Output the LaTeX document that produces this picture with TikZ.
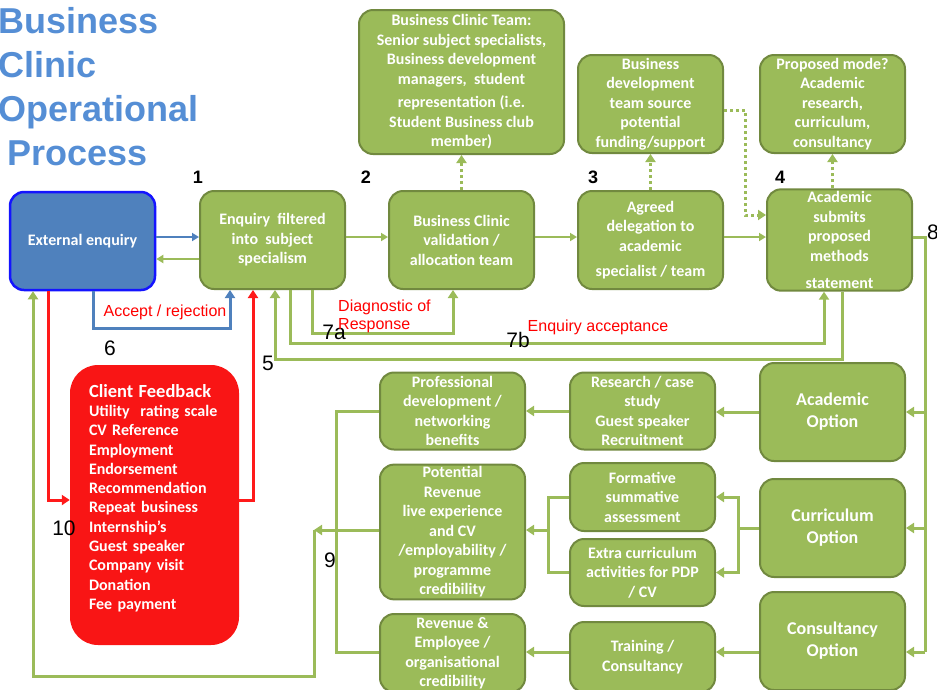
\documentclass[tikz,border=0pt]{standalone}
\usepackage{fontspec}
\newfontfamily\boxfont{Carlito}
\newfontfamily\labfont{Liberation Sans}
\usetikzlibrary{arrows.meta}
\definecolor{gfill}{HTML}{9BBB59}
\definecolor{gdraw}{HTML}{71893F}
\definecolor{bfill}{HTML}{4F81BD}
\definecolor{bdraw}{HTML}{1414FF}
\definecolor{rfill}{HTML}{F91515}
\definecolor{rline}{HTML}{FF1A1A}
\definecolor{titleblue}{HTML}{558ED5}
\begin{document}
\begin{tikzpicture}[x=1pt,y=-1pt,
  gbox/.style={draw=gdraw, line width=2pt, fill=gfill, rounded corners=14pt, text=white,
    font=\boxfont\bfseries\fontsize{16}{19.5}\selectfont, align=center, inner sep=2pt,
    minimum width=145pt, minimum height=98pt},
  obox/.style={gbox, font=\boxfont\bfseries\fontsize{18}{22}\selectfont},
  bbox/.style={gbox, draw=bdraw, line width=2.5pt, fill=bfill},
  rbox/.style={fill=rfill, rounded corners=28pt, text=white, align=left,
    font=\boxfont\bfseries\fontsize{16}{19.3}\selectfont,
    text width=131pt, inner xsep=19pt, inner ysep=0pt, minimum height=280pt},
  tip/.style={-{Triangle[length=8pt,width=10pt]}},
  garr/.style={draw=gfill, line width=3pt, tip},
  gline/.style={draw=gfill, line width=3pt},
  gthin/.style={draw=gfill, line width=2pt, -{Triangle[length=7pt,width=8pt]}},
  barr/.style={draw=bfill, line width=3pt, tip},
  bthin/.style={draw=bfill, line width=2pt, -{Triangle[length=7pt,width=8pt]}},
  rarr/.style={draw=rline, line width=3pt, tip},
  gdot/.style={draw=gfill, line width=3pt, dash pattern=on 3pt off 3pt, tip},
  lab/.style={text=red, font=\labfont\fontsize{16}{18}\selectfont, inner sep=0pt},
  num/.style={text=black, font=\labfont\fontsize{21}{21}\selectfont, inner sep=0pt},
  bnum/.style={text=black, font=\labfont\bfseries\fontsize{18}{18}\selectfont, inner sep=0pt},
  ttl/.style={text=titleblue, font=\labfont\bfseries\fontsize{36}{44}\selectfont, align=left, inner sep=0pt}
]
\useasboundingbox (0,0) rectangle (937,689);

% title
\node[ttl, anchor=base west] (title) at (-2,165) {Business\\Clinic\\Operational\\\hspace{9pt}Process};

% top row
\node[bbox] (ext) at (82.5,241) {External enquiry};
\node[gbox] (enq) at (272.5,240) {Enquiry~~filtered\\into~~subject\\specialism};
\node[gbox] (val) at (461.5,240) {Business Clinic\\validation /\\allocation team};
\node[gbox] (agr) at (650.5,240) {Agreed\\delegation to\\academic\\[6pt]specialist / team};
\node[gbox] (acs) at (839.5,240) {Academic\\submits\\proposed\\methods\\[8pt]statement};

\node[gbox, minimum width=205pt, minimum height=144pt] (team) at (461.5,82)
  {Business Clinic Team:\\Senior subject specialists,\\Business development\\managers,~~student\\[4pt]representation (i.e.\\Student Business club\\member)};
\node[gbox] (bdev) at (650.5,104) {Business\\development\\team source\\potential\\funding/support};
\node[gbox] (prop) at (832.5,104) {Proposed mode?\\Academic\\research,\\curriculum,\\consultancy};

% red feedback box
\node[rbox] (rbox) at (154.5,505) {{\fontsize{18.5}{21}\selectfont Client Feedback}\\Utility~~rating scale\\CV Reference\\Employment\\Endorsement\\Recommendation\\Repeat business\\Internship’s\\Guest speaker\\Company visit\\Donation\\Fee payment\\[-3pt]\mbox{}};

% options
\node[obox] (acadopt) at (832.5,412) {Academic\\Option};
\node[obox] (curopt) at (832.5,528) {Curriculum\\Option};
\node[obox] (conopt) at (832.5,641) {Consultancy\\Option};

\node[gbox, minimum height=77pt] (research) at (642.5,411) {Research / case\\study\\Guest speaker\\Recruitment};
\node[gbox, minimum height=77pt] (prof) at (452.5,411) {Professional\\development /\\networking\\benefits};
\node[gbox, minimum height=68pt] (formative) at (642.5,497) {Formative\\summative\\assessment};
\node[gbox, minimum height=67pt] (extra) at (642.5,572.5) {Extra curriculum\\activities for PDP\\/ CV};
\node[gbox, minimum height=134pt] (potrev) at (452.5,532) {Potential\\Revenue\\live experience\\and CV\\/employability /\\programme\\credibility};
\node[gbox, minimum height=70pt] (training) at (642.5,657) {Training /\\Consultancy};
\node[gbox, minimum height=78pt] (revemp) at (452.5,653) {Revenue \&\\Employee /\\organisational\\credibility};

% coordinates
\coordinate (c8) at (925,652);
\coordinate (cc) at (738,528);
\coordinate (cm) at (548,530);
\coordinate (n9a) at (336,411);
\coordinate (n9b) at (336,652);
\coordinate (c9) at (314,530);
\coordinate (c10) at (314,676);
\coordinate (d1) at (745,110);

% top connectors
\draw[bthin] ([yshift=4pt]ext.east) -- ([yshift=4pt]ext.east -| enq.west);
\draw[gthin] ([yshift=-19pt]enq.west) -- ([yshift=-19pt]enq.west -| ext.east);
\draw[gthin] ([yshift=3pt]enq.east) -- ([yshift=3pt]val.west);
\draw[gthin] ([yshift=3pt]val.east) -- ([yshift=3pt]agr.west);
\draw[gthin] ([yshift=3pt]agr.east) -- ([yshift=3pt]acs.west);

% dotted
\draw[gdot] (val.north) -- (team.south);
\draw[gdot] (agr.north) -- (bdev.south);
\draw[gdot] (acs.north -| prop.south) -- (prop.south);
\draw[gdot] ([yshift=-6pt]bdev.east) -- (d1) |- ([yshift=25pt]acs.west);

% loops under the top row
\draw[barr] ([xshift=10.5pt]ext.south) -- ++(0,37) -| ([xshift=-42.5pt]enq.south);
\draw[rarr] ([xshift=-34.5pt]ext.south) |- ([yshift=5pt]rbox.west);
\draw[rarr] ([yshift=5pt]rbox.east) -| ([xshift=-19.5pt]enq.south);
\draw[garr] ([xshift=39.5pt]enq.south) -- ++(0,43) -| ([xshift=-8.5pt]val.south);
\draw[garr] ([xshift=17.5pt]enq.south) -- ++(0,53) -| ([xshift=-15.5pt]acs.south);
\draw[garr] ([xshift=2.5pt]acs.south) -- ++(0,68) -| ([xshift=2.5pt]enq.south);

% 8 trunk
\draw[gline] ([yshift=3pt]acs.east) -| (c8);
\draw[garr] (c8 |- acadopt) -- (acadopt.east);
\draw[garr] (c8 |- curopt) -- (curopt.east);
\draw[garr] (c8) -- (c8 -| conopt.east);

% option flows
\draw[garr] (acadopt.west) -- (acadopt.west -| research.east);
\draw[garr] (research.west) -- (prof.east);
\draw[gline] (curopt.west) -- (cc);
\draw[garr] (cc) |- (formative.east);
\draw[garr] (cc) |- (extra.east);
\draw[gline] (formative.west) -| (cm);
\draw[gline] (extra.west) -| (cm);
\draw[garr] (cm) -- (cm -| potrev.east);
\draw[garr] (c8 -| conopt.west) -- (c8 -| training.east);
\draw[garr] (c8 -| training.west) -- (c8 -| revemp.east);

% 9 / return loop
\draw[gline] (prof.west) -- (n9a) -- (n9b) -- (n9b -| revemp.west);
\draw[garr] (c9 -| potrev.west) -- (c9);
\draw[garr] (c9) -- (c10) -| ([xshift=-49.5pt]ext.south);

% numbers
\node[bnum] (n1) at (198,177) {1};
\node[bnum] (n2) at (366,177) {2};
\node[bnum] (n3) at (593,177) {3};
\node[bnum] (n4) at (780,177) {4};
\node[num] (n5) at (268,363) {5};
\node[num] (n6) at (110,348) {6};
\node[num] (n7a) at (334,332) {7a};
\node[num] (n7b) at (518,340) {7b};
\node[num, anchor=west] (n8) at (927,232) {8};
\node[num] (n9) at (330,560) {9};
\node[num] (n10) at (64,528) {10};

% labels
\node[lab] (lacc) at (165,312) {Accept / rejection};
\node[lab, align=left, anchor=base west] (ldiag) at (338,329) {Diagnostic of\\Response};
\node[lab] (lenq) at (598,327) {Enquiry acceptance};
\end{tikzpicture}
\end{document}
